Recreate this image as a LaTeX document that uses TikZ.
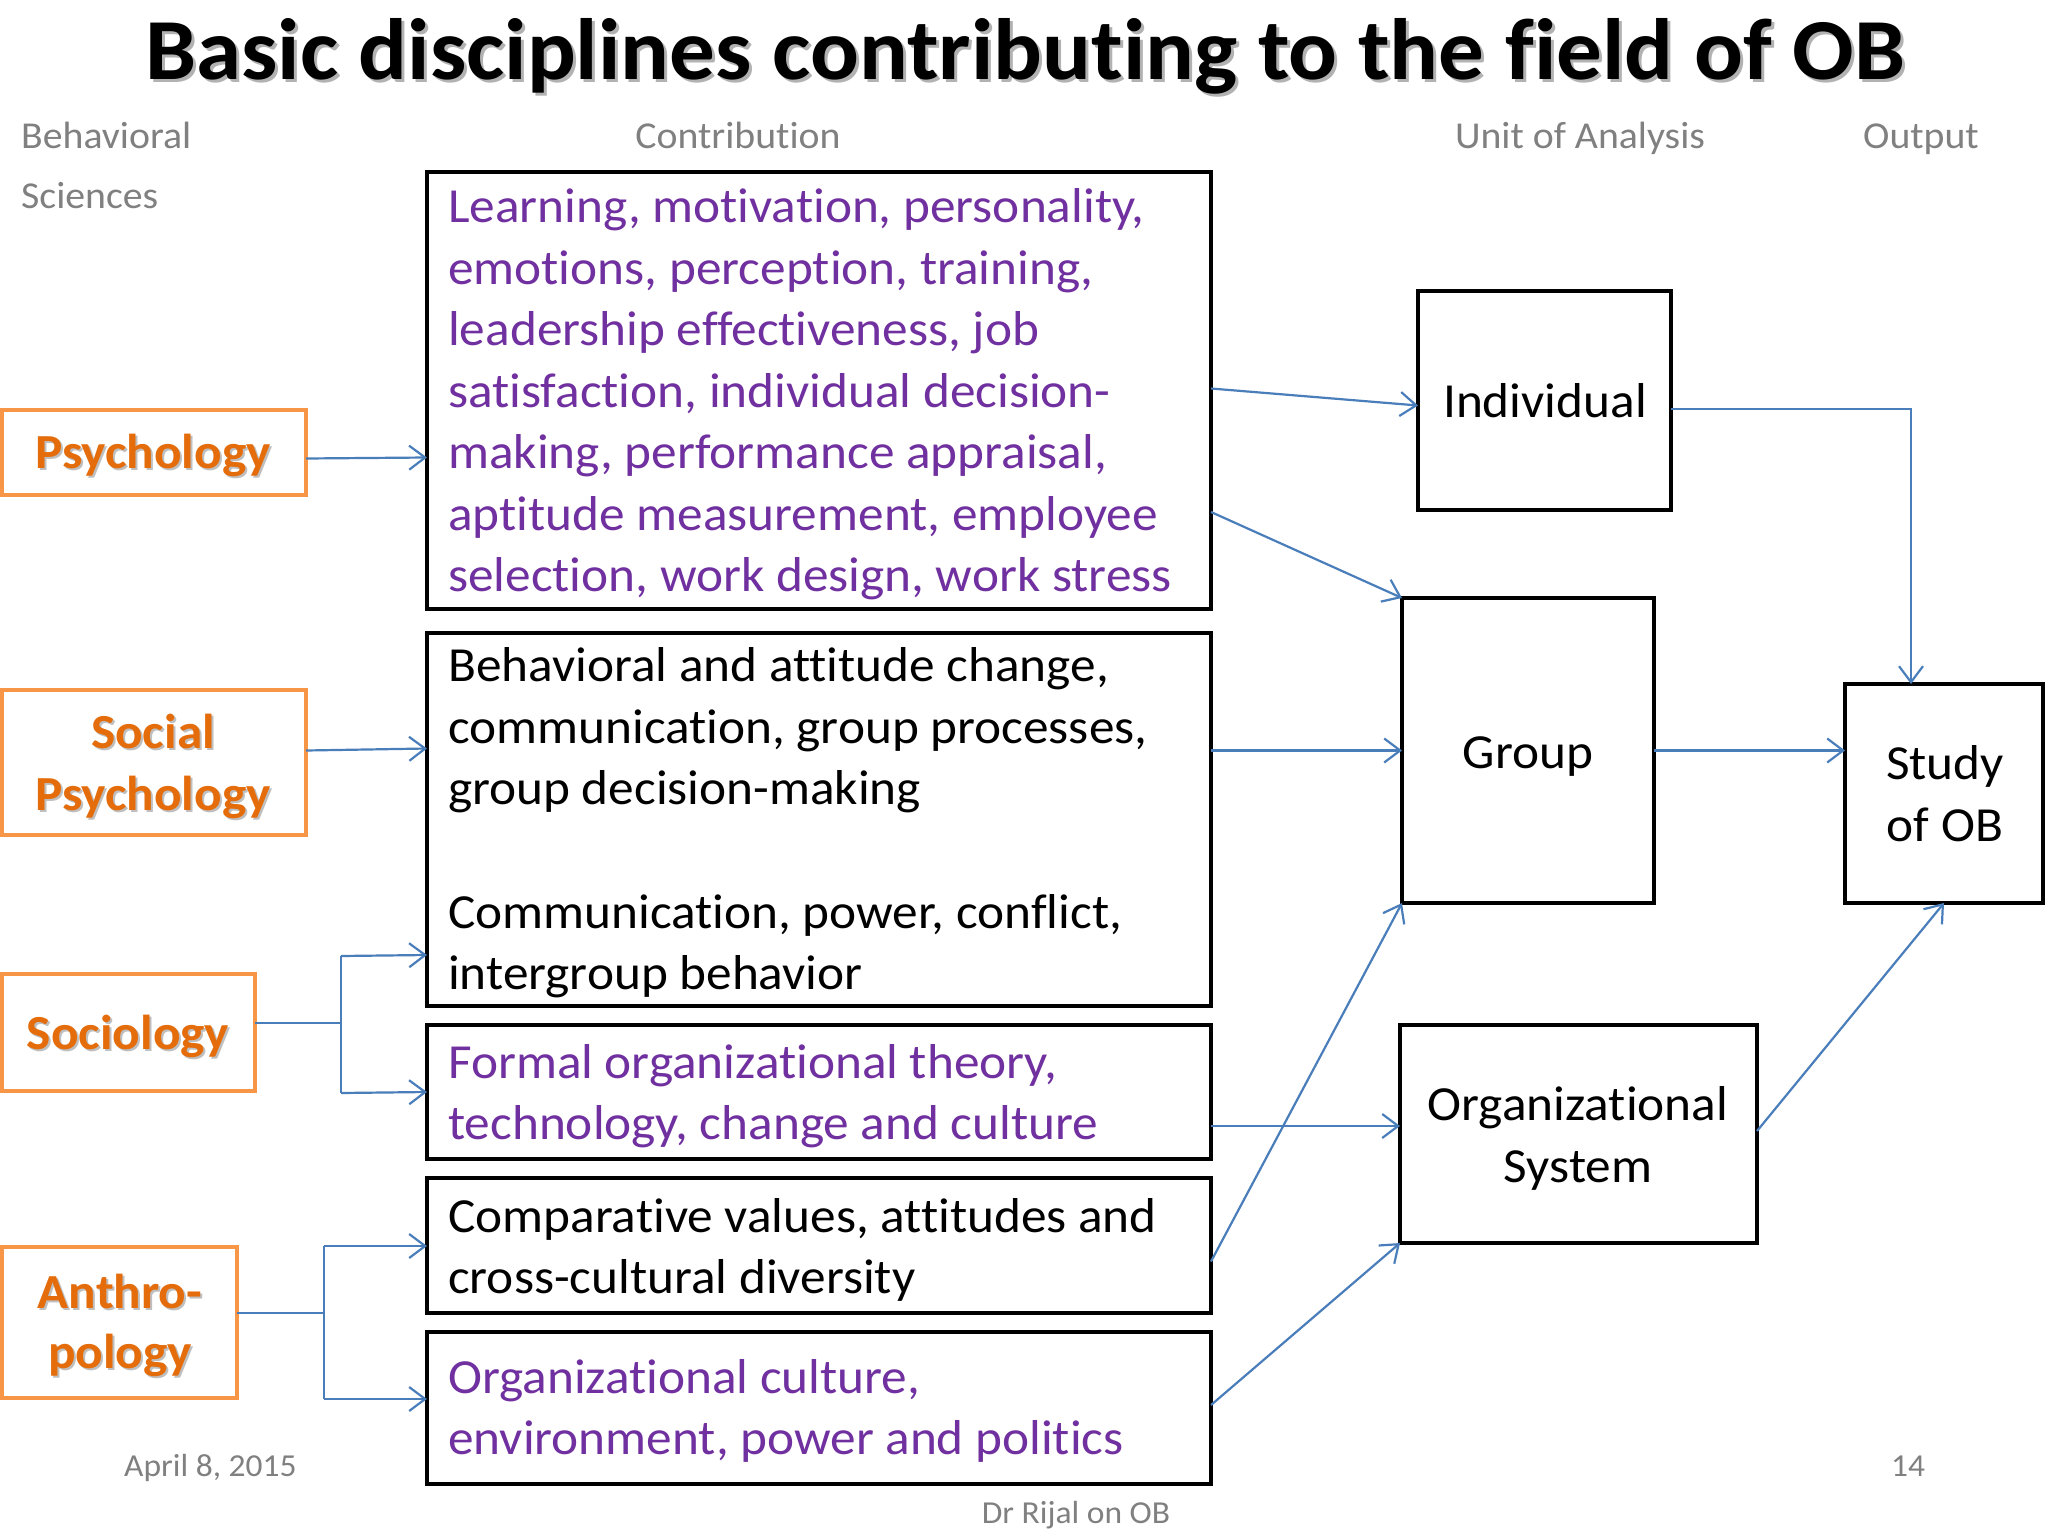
\documentclass[tikz,border=0pt]{standalone}
\usepackage{fontspec}
\setmainfont{Carlito}[FakeStretch=1.047, Ligatures=NoCommon]
\usetikzlibrary{arrows.meta}
\definecolor{obpurple}{HTML}{7030A0}
\definecolor{oborange}{HTML}{F79646}
\definecolor{obotext}{HTML}{E46C0A}
\definecolor{obblue}{HTML}{4A7EBB}
\definecolor{obgray}{HTML}{808080}
\newcommand\bodyfont{\fontsize{49}{61.5}\selectfont}
\newcommand\headfont{\fontsize{38}{46}\selectfont}
\newcommand\footfont{\fontsize{32}{38}\selectfont}
\begin{document}
\begin{tikzpicture}[x=1pt,y=-1pt,
  cbox/.style={draw=black, line width=4.5pt, minimum width=784pt, inner sep=0pt, outer sep=0pt},
  obox/.style={draw=oborange, line width=4.5pt, inner sep=0pt, outer sep=0pt},
  ubox/.style={draw=black, line width=4.5pt, inner sep=0pt, outer sep=0pt},
  link/.style={draw=obblue, line width=2.2pt},
  arr/.style={link, -{Straight Barb[length=16pt,width=24pt,line width=2.2pt]}},
  txt/.style={anchor=base west, inner sep=0pt},
  ctxt/.style={anchor=base, inner sep=0pt},
  otxt/.style={anchor=base, inner sep=0pt, text=obotext, font=\bodyfont\bfseries},
  oshadow/.style={anchor=base, inner sep=0pt, text=black!25, font=\bodyfont\bfseries},
  head/.style={anchor=base, inner sep=0pt, text=obgray, font=\headfont}]
\fill[white] (0,0) rectangle (2048,1536);
\useasboundingbox (0,0) rectangle (2048,1536);

% title
\node[anchor=base, inner sep=0pt, text=black!30, font=\fontsize{87}{100}\selectfont\bfseries] (titleS) at (1028,83) {Basic disciplines contributing to the field of OB};
\node[anchor=base, inner sep=0pt, font=\fontsize{87}{100}\selectfont\bfseries] (title) at (1025,80) {Basic disciplines contributing to the field of OB};

% headers
\node[txt, text=obgray, font=\headfont] (h1) at (21,149) {Behavioral};
\node[txt, text=obgray, font=\headfont] (h1b) at (21,208) {Sciences};
\node[head] (h2) at (738,149) {Contribution};
\node[head] (h3) at (1580,149) {Unit of Analysis};
\node[head] (h4) at (1921,149) {Output};

% contribution boxes
\node[cbox, minimum height=437pt] (b1) at (819,390.5) {};
\node[cbox, minimum height=373pt] (b2) at (819,819.5) {};
\node[cbox, minimum height=134pt] (b3) at (819,1092) {};
\node[cbox, minimum height=135pt] (b4) at (819,1245.5) {};
\node[cbox, minimum height=152pt] (b5) at (819,1408) {};

\node[txt, text=obpurple] (t1) at (448,222.5) {\parbox[t]{760pt}{\bodyfont\raggedright
 Learning, motivation, personality,\\
 emotions, perception, training,\\
 leadership effectiveness, job\\
 satisfaction, individual decision-\\
 making, performance appraisal,\\
 aptitude measurement, employee\\
 selection, work design, work stress}};
\node[txt] (t2) at (448,681.5) {\parbox[t]{760pt}{\bodyfont\raggedright
 Behavioral and attitude change,\\
 communication, group processes,\\
 group decision-making}};
\node[txt] (t2b) at (448,928) {\parbox[t]{760pt}{\bodyfont\raggedright
 Communication, power, conflict,\\
 intergroup behavior}};
\node[txt, text=obpurple] (t3) at (448,1078) {\parbox[t]{760pt}{\bodyfont\raggedright
 Formal organizational theory,\\
 technology, change and culture}};
\node[txt] (t4) at (448,1232) {\parbox[t]{760pt}{\bodyfont\raggedright
 Comparative values, attitudes and\\
 cross-cultural diversity}};
\node[txt, text=obpurple] (t5) at (448,1393) {\parbox[t]{760pt}{\bodyfont\raggedright
 Organizational culture,\\
 environment, power and politics}};

% discipline boxes
\node[obox, minimum width=304pt, minimum height=85pt] (psy) at (154,452.5) {};
\node[obox, minimum width=304pt, minimum height=145pt] (soc) at (154,762.5) {};
\node[obox, minimum width=253pt, minimum height=117pt] (socio) at (128.5,1032.5) {};
\node[obox, minimum width=235pt, minimum height=151pt] (anth) at (119.5,1322.5) {};

\node[oshadow] (psyS) at (155,470) {Psychology};
\node[otxt] (psyT) at (153,468) {Psychology};
\node[oshadow] (socS) at (155,750) {Social};
\node[otxt] (socT) at (153,748) {Social};
\node[oshadow] (socS2) at (155,812) {Psychology};
\node[otxt] (socT2) at (153,810) {Psychology};
\node[oshadow] (sociS) at (130,1051) {Sociology};
\node[otxt] (sociT) at (128,1049) {Sociology};
\node[oshadow] (anthS) at (122,1310) {Anthro-};
\node[otxt] (anthT) at (120,1308) {Anthro-};
\node[oshadow] (anthS2) at (122,1370) {pology};
\node[otxt] (anthT2) at (120,1368) {pology};

% unit boxes
\node[ubox, minimum width=253pt, minimum height=219pt] (ind) at (1544.5,400.5) {};
\node[ubox, minimum width=252pt, minimum height=305pt] (grp) at (1528,750.5) {};
\node[ubox, minimum width=357pt, minimum height=218pt] (org) at (1578.5,1134) {};
\node[ubox, minimum width=198pt, minimum height=219pt] (study) at (1944,793.5) {};

\node[ctxt, font=\bodyfont] (indT) at (1545,417) {Individual};
\node[ctxt, font=\bodyfont] (grpT) at (1528,768) {Group};
\node[ctxt, font=\bodyfont] (orgT) at (1578,1120) {Organizational};
\node[ctxt, font=\bodyfont] (orgT2) at (1578,1182) {System};
\node[ctxt, font=\bodyfont] (stT) at (1945,779) {Study};
\node[ctxt, font=\bodyfont] (stT2) at (1945,841.5) {of OB};

% footer
\node[txt, text=obgray, font=\footfont] (date) at (124,1476) {April 8, 2015};
\node[ctxt, text=obgray, font=\footfont] (auth) at (1076,1523) {Dr Rijal on OB};
\node[ctxt, text=obgray, font=\footfont] (page) at (1908,1476) {14};

% connectors: disciplines -> contributions
\draw[arr] ([yshift=-6pt]psy.east) -- ([yshift=-5pt]psy.east -| b1.west);
\draw[arr] ([yshift=12pt]soc.east) -- ([yshift=14pt]soc.east -| b2.west);

\coordinate (sj) at (341,1023);
\coordinate (st) at (341,956);
\coordinate (sb) at (341,1093);
\draw[link] ([yshift=9.5pt]socio.east) -- (sj);
\draw[link] (st) -- (sb);
\draw[arr] (st) -- ([yshift=1pt]st -| b2.west);
\draw[arr] (sb) -- ([yshift=1pt]sb -| b3.west);

\coordinate (aj) at (324,1313);
\coordinate (at) at (324,1246);
\coordinate (ab) at (324,1399);
\draw[link] ([yshift=9.5pt]anth.east) -- (aj);
\draw[link] (at) -- (ab);
\draw[arr] (at) -- (at -| b4.west);
\draw[arr] (ab) -- (ab -| b5.west);

% contributions -> units
\draw[arr] ([yshift=2pt]b1.east) -- ([yshift=-5pt]ind.west);
\draw[arr] ([yshift=-121.5pt]b1.east) -- (grp.north west);
\draw[arr] (grp.west -| b2.east) -- (grp.west);
\draw[arr] ([yshift=-16pt]b4.east) -- (grp.south west);
\draw[arr] ([yshift=8pt]org.west -| b3.east) -- ([yshift=8pt]org.west);
\draw[arr] ([yshift=3pt]b5.east) -- (org.south west);

% units -> output
\draw[arr] ([yshift=-8.5pt]ind.east) -| ([xshift=-33pt]study.north);
\draw[arr] (grp.east) -- (grp.east -| study.west);
\draw[arr] ([yshift=3pt]org.east) -- (study.south);
\end{tikzpicture}
\end{document}
